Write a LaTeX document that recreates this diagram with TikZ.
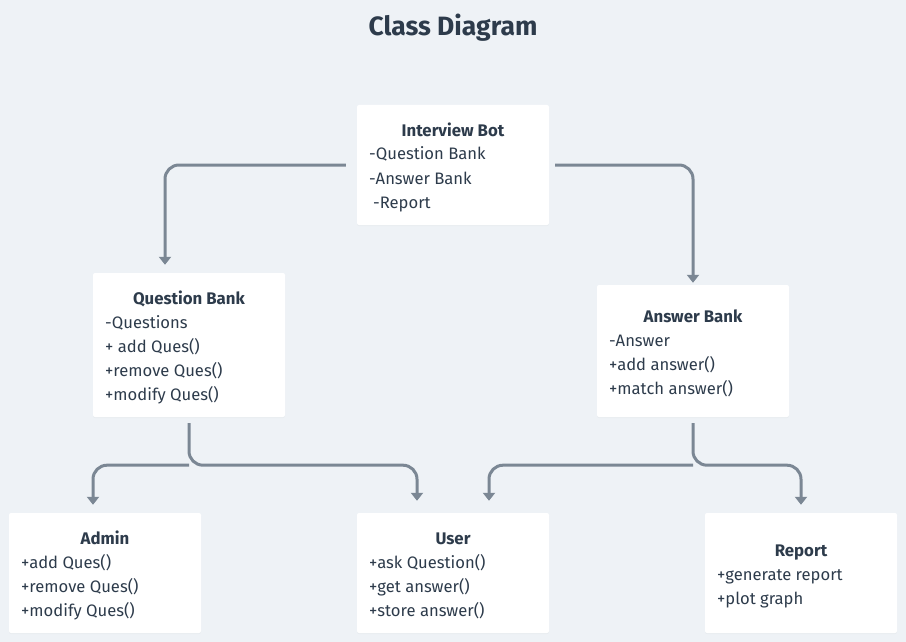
\documentclass[tikz,border=0pt]{standalone}
\usepackage{fontspec}
\setmainfont{Fira Sans}
\usetikzlibrary{arrows.meta, shadows, calc, positioning}
\definecolor{bgGray}{HTML}{EEF2F6}
\definecolor{lineGray}{HTML}{7B8794}
\definecolor{textDark}{HTML}{2D3B4B}
\tikzset{
    classBox/.style={rectangle, fill=white, rounded corners=2pt, minimum width=192pt, inner sep=0pt, drop shadow={opacity=0.05, shadow xshift=0pt, shadow yshift=-1pt}},
    classTitle/.style={font=\bfseries\fontsize{16.8}{20}\selectfont, text=textDark, inner sep=0pt, anchor=base},
    classItem/.style={font=\fontsize{16.6}{20}\selectfont, text=textDark, inner sep=0pt, anchor=base west},
    relLink/.style={-{Triangle[width=12pt, length=8pt]}, draw=lineGray, line width=3pt, rounded corners=14pt},
}
% name, centre x, top y, height, title, title baseline, entries
\newcommand{\drawClass}[7]{
    \node[classBox, minimum height=#4] (#1) at (#2, #3+#4/2) {};
    \node[classTitle] (#1-title) at (#2, #6) {#5};
    \foreach \entry [count=\k] in {#7} {
        \node[classItem] (#1-\k) at (#2-84, #6+24*\k) {\entry};
    }
}
\begin{document}
\begin{tikzpicture}[x=1pt, y=-1pt]
    \fill[bgGray] (0,0) rectangle (906,642);
    \useasboundingbox (0,0) rectangle (906,642);

    \node[font=\bfseries\fontsize{26.5}{30}\selectfont, text=textDark] (title) at (453, 28) {Class Diagram};

    \drawClass{ib}{453}{105}{120}{Interview Bot}{136}{-Question Bank, -Answer Bank, \hspace*{4pt}-Report}
    \drawClass{qb}{189}{273}{144}{Question Bank}{304}{-Questions, + add Ques(), +remove Ques(), +modify Ques()}
    \drawClass{ab}{693}{285}{132}{Answer Bank}{322}{-Answer, +add answer(), +match answer()}
    \drawClass{admin}{105}{513}{120}{Admin}{544}{+add Ques(), +remove Ques(), +modify Ques()}
    \drawClass{user}{453}{513}{120}{User}{544}{+ask Question(), +get answer(), +store answer()}
    \drawClass{report}{801}{513}{120}{Report}{556}{+generate report, +plot graph}

    % links from the bot
    \draw[relLink] ([xshift=-11pt]ib.west) -| ([xshift=-24pt, yshift=8pt]qb.north);
    \draw[relLink] ([xshift=6pt]ib.east) -| ([yshift=2pt]ab.north);

    % links from the question bank
    \draw[relLink] ([yshift=-6pt]qb.south) -- ++(0,42) -| ([xshift=-36pt, yshift=12pt]user.north);
    \draw[relLink] ([yshift=-48pt]qb.south) -| ([xshift=-12pt, yshift=8pt]admin.north);

    % links from the answer bank
    \draw[relLink] ([yshift=-6pt]ab.south) -- ++(0,42) -| ([yshift=8pt]report.north);
    \draw[relLink] ([yshift=-48pt]ab.south) -| ([xshift=36pt, yshift=12pt]user.north);

\end{tikzpicture}
\end{document}
